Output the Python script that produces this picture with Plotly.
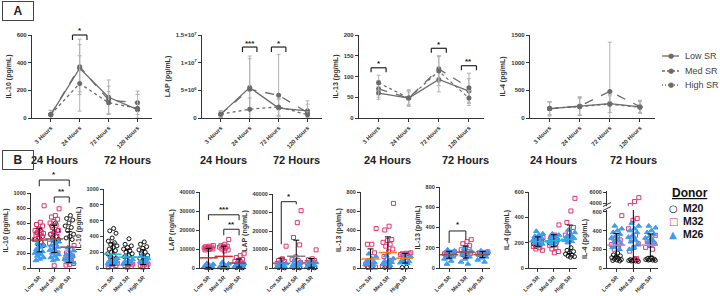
import numpy as np
import plotly.graph_objects as go

W, H = 720, 296
FONT = "Arial, Liberation Sans, sans-serif"

HOURS = ["3 Hours", "24 Hours", "72 Hours", "120 Hours"]
SR_GROUPS = ["Low SR", "Med SR", "High SR"]
DONORS = ["M20", "M32", "M26"]

# ---------------- Panel A: mean (SD) over time ----------------
IL10_LOW = [25, 360, 150, 60]
IL10_LOW_SD = [30, 170, 125, 60]
IL10_MED = [25, 370, 130, 110]
IL10_MED_SD = [30, 200, 100, 85]
IL10_HIGH = [25, 250, 110, 70]
IL10_HIGH_SD = [30, 200, 80, 100]

LAP_LOW = [7e5, 5.5e6, 1.8e6, 1.3e6]
LAP_LOW_SD = [6e5, 5.7e6, 1.5e6, 1.8e6]
LAP_MED = [7e5, 5.2e6, 4.1e6, 1.0e6]
LAP_MED_SD = [6e5, 5.5e6, 7.4e6, 1.5e6]
LAP_HIGH = [7e5, 1.6e6, 2.0e6, 0.6e6]
LAP_HIGH_SD = [5e5, 2.0e6, 1.5e6, 0.5e6]

IL13_LOW = [60, 48, 93, 65]
IL13_LOW_SD = [15, 15, 30, 30]
IL13_MED = [70, 48, 118, 73]
IL13_MED_SD = [20, 18, 32, 35]
IL13_HIGH = [85, 48, 113, 48]
IL13_HIGH_SD = [18, 20, 35, 18]

IL4_LOW = [170, 210, 260, 200]
IL4_LOW_SD = [120, 160, 160, 100]
IL4_MED = [165, 215, 480, 205]
IL4_MED_SD = [130, 170, 890, 115]
IL4_HIGH = [175, 205, 250, 195]
IL4_HIGH_SD = [110, 150, 150, 110]

# ---------------- Panel B: individual values [Low, Med, High] ----------------
IL10_24_M20 = [[500, 470, 420, 400, 380, 340, 320, 300],
               [600, 560, 500, 480, 450, 420, 400, 380, 350],
               [700, 660, 640, 600, 560, 540, 500, 450, 420, 400, 380]]
IL10_24_M32 = [[830, 610, 580, 560, 520, 500, 480, 470, 460, 450, 440, 420, 400, 380, 350],
               [790, 700, 680, 650, 620, 600, 570, 540, 500, 470, 450, 420, 380, 330, 300, 270, 200, 30],
               [300, 250, 200, 160, 140, 120, 100, 80, 60, 50, 40]]
IL10_24_M26 = [[330, 300, 280, 250, 220, 200, 200, 180, 160, 140, 120, 100],
               [380, 350, 320, 300, 280, 260, 240, 220, 200, 180, 160, 140, 120, 100],
               [270, 230, 200, 180, 160, 140, 120, 100, 80, 70]]

IL10_72_M20 = [[500, 470, 440, 380, 340, 320, 300, 280, 260, 240, 220, 200, 180, 160, 140, 120, 100],
               [370, 300, 280, 260, 240, 220, 200, 180, 160, 140, 120, 100],
               [330, 300, 270, 250, 230, 200, 180, 160, 140, 120, 100]]
IL10_72_M32 = [[60, 50, 40, 30, 20, 10],
               [50, 40, 30, 20, 10],
               [50, 40, 30, 20, 10]]
IL10_72_M26 = [[150, 120, 100, 90, 80, 70, 60, 50, 40],
               [140, 110, 90, 80, 70, 60, 50],
               [160, 120, 100, 80, 70, 60]]

LAP_24_M20 = [[500, 300, 200, 100],
              [500, 300, 100],
              [400, 200, 100]]
LAP_24_M32 = [[11800, 11500, 11200, 11000, 10800, 10600, 10400, 10200, 10000, 9800, 9500],
              [15000, 12500, 11800, 11500, 11200, 11000, 10500, 10000, 9500, 9000],
              [7500, 6500, 5500, 4500, 4000, 3500, 3000, 2500, 2000]]
LAP_24_M26 = [[2500, 2000, 1500, 1200, 1000, 800, 600, 400, 200],
              [3000, 2200, 1500, 1000, 800, 500, 300],
              [3000, 2500, 2000, 1500, 1200, 1000, 800, 500]]

LAP_72_M20 = [[300, 200, 100],
              [300, 200, 100],
              [300, 200, 100]]
LAP_72_M32 = [[11800, 5000, 4000, 3500, 3000, 2500, 2000],
              [31000, 24500, 16500, 12500, 6000, 4500, 4000, 3500, 3000],
              [9800, 5000, 4500, 4000, 3500, 3000, 2500]]
LAP_72_M26 = [[3000, 2500, 2000, 1500, 1000, 800, 500],
              [4000, 3000, 2500, 2000, 1500, 1000, 500],
              [3500, 3000, 2500, 2000, 1500, 1000, 500]]

IL13_24_M20 = [[10, 5], [10, 5], [10, 5]]
IL13_24_M32 = [[415, 250, 250, 160, 80, 40, 20, 10, 10, 10],
               [680, 440, 400, 300, 290, 270, 250, 230, 200, 170, 120, 80, 40, 20, 10],
               [160, 155, 150, 150, 145, 140, 135, 130]]
IL13_24_M26 = [[150, 120, 100, 80, 60, 50, 40, 30],
               [130, 100, 80, 70, 60, 50, 40, 30],
               [140, 120, 100, 80, 70, 60, 55, 50]]

IL13_72_M20 = [[140, 130], [140, 130], [140, 130]]
IL13_72_M32 = [[160, 155, 150, 150, 145, 140, 140, 135, 130],
               [280, 260, 240, 220, 200, 180, 160, 150, 145, 140, 140, 135],
               [160, 155, 150, 145, 140, 140, 135]]
IL13_72_M26 = [[180, 170, 150, 130, 110, 100, 90, 70, 40],
               [190, 170, 150, 130, 110, 90, 60, 40],
               [170, 160, 150, 130, 110, 100, 80, 60]]

IL4_24_M20 = [[230, 220, 210, 200, 190, 180, 170],
              [250, 240, 220, 210, 200, 190],
              [160, 140, 130, 120, 110, 100, 95, 90, 85]]
IL4_24_M32 = [[240, 230, 220, 200, 180, 170, 160, 150, 140],
              [340, 260, 240, 220, 200, 180, 160, 150, 130, 120],
              [550, 450, 360, 320, 280, 260, 240, 220]]
IL4_24_M26 = [[290, 270, 260, 250, 240, 230, 220, 210, 200, 190, 180],
              [270, 260, 250, 240, 230, 220, 210, 200, 190],
              [300, 280, 260, 250, 240, 230, 220, 210, 200]]

IL4_72_M20 = [[160, 140, 130, 120, 110, 100, 95, 90, 85, 80, 75],
              [100, 90, 85, 80, 80, 75, 75, 70],
              [110, 100, 95, 90, 90, 85, 85, 80]]
IL4_72_M32 = [[560, 340, 320, 300, 280, 250, 220, 200],
              [5000, 4300, 3600, 530, 510, 420, 350, 300, 260, 220, 180, 100],
              [350, 300, 280, 260, 240, 220, 200]]
IL4_72_M26 = [[450, 420, 400, 380, 360, 340, 320, 300, 280, 260, 240, 220, 200],
              [480, 450, 420, 400, 380, 350, 330, 300, 280, 250, 220, 200],
              [450, 430, 400, 380, 360, 340, 320, 300, 280, 260, 240]]

# ---------------- styling ----------------
LINE_GRAY = "#6b6b6b"
ERR_GRAY = "#b3b3b3"
AXC = "#333333"
DONOR_STYLE = {
    "M20": dict(symbol="circle-open", color="#111111", size=4, glyph="○"),
    "M32": dict(symbol="square-open", color="#e3336f", size=4, glyph="□"),
    "M26": dict(symbol="triangle-up", color="#3b9cf4", size=5, glyph="▲"),
}
DASHES = ["solid", "dash", "dot"]
LEGEND_DASHES = ["solid", "3px,2px", "1px,2px"]


def PX(x):
    return x / W


def PY(y):
    return 1 - y / H


def axis_base(size=6, **kw):
    d = dict(showline=True, linecolor=AXC, linewidth=1.2, ticks="outside", ticklen=3,
             tickwidth=1, tickcolor=AXC, showgrid=False, zeroline=False, automargin=False,
             fixedrange=True,
             tickfont=dict(family=FONT, size=size, color=AXC, weight="bold"))
    d.update(kw)
    return d


fig = go.Figure()
layout = dict(width=W, height=H, margin=dict(l=0, r=0, t=0, b=0), template="none",
              paper_bgcolor="white", plot_bgcolor="white", showlegend=False,
              font=dict(family=FONT, color=AXC))
shapes, annotations = [], []

# ---------------- Panel A ----------------
TOP = [
    ("IL-10 (pg/mL)", 32, 152, [0, 600], [0, 200, 400, 600], None,
     [(IL10_LOW, IL10_LOW_SD), (IL10_MED, IL10_MED_SD), (IL10_HIGH, IL10_HIGH_SD)]),
    ("LAP (pg/mL)", 202, 322, [0, 1.5e7], [0, 5e6, 1e7, 1.5e7],
     ["0", "5×10<sup>6</sup>", "1×10<sup>7</sup>", "1.5×10<sup>7</sup>"],
     [(LAP_LOW, LAP_LOW_SD), (LAP_MED, LAP_MED_SD), (LAP_HIGH, LAP_HIGH_SD)]),
    ("IL-13 (pg/mL)", 359, 484, [0, 200], [0, 50, 100, 150, 200], None,
     [(IL13_LOW, IL13_LOW_SD), (IL13_MED, IL13_MED_SD), (IL13_HIGH, IL13_HIGH_SD)]),
    ("IL-4 (pg/mL)", 530, 655, [0, 1500], [0, 500, 1000, 1500], None,
     [(IL4_LOW, IL4_LOW_SD), (IL4_MED, IL4_MED_SD), (IL4_HIGH, IL4_HIGH_SD)]),
]
TOP_Y = (35, 118)
xs_top = list(range(len(HOURS)))
for i, (ytitle, x0, x1, yr, tv, tt, series) in enumerate(TOP):
    n = i + 1
    sx = "" if n == 1 else str(n)
    layout["xaxis" + sx] = axis_base(domain=[PX(x0), PX(x1)], range=[-0.65, 3.5],
                                     anchor="y" + sx, tickvals=xs_top, ticktext=HOURS,
                                     tickangle=-45)
    ya = axis_base(domain=[PY(TOP_Y[1]), PY(TOP_Y[0])], range=yr, anchor="x" + sx,
                   tickvals=tv, tickformat="d",
                   title=dict(text=ytitle, font=dict(family=FONT, size=7, weight="bold"),
                              standoff=4))
    if tt:
        ya["ticktext"] = tt
    layout["yaxis" + sx] = ya
    for k, ((m, sd), name) in enumerate(zip(series, SR_GROUPS)):
        fig.add_trace(go.Scatter(
            x=xs_top, y=m, name=name, mode="lines+markers",
            error_y=dict(type="data", array=sd, color=ERR_GRAY, thickness=1, width=2),
            line=dict(color=LINE_GRAY, width=1.3, dash=DASHES[k]),
            marker=dict(size=5, color=LINE_GRAY),
            xaxis="x" + sx, yaxis="y" + sx))

# significance brackets for panel A: (axis no., x0, x1, label, top, leg, star)
TOP_SIG = [
    (1, 0.75, 1.25, "*", 1.0, 0.94, 1.05),
    (2, 0.75, 1.25, "***", 0.855, 0.795, 0.90),
    (2, 1.75, 2.25, "*", 0.855, 0.795, 0.90),
    (3, -0.25, 0.25, "*", 0.605, 0.55, 0.655),
    (3, 1.75, 2.25, "*", 0.84, 0.785, 0.89),
    (3, 2.75, 3.25, "**", 0.63, 0.575, 0.68),
]

# ---------------- Panel B ----------------
BOTTOM = [
    ("IL-10 (pg/mL)", 31, 76, 193, [0, 1000], [0, 200, 400, 600, 800, 1000],
     [IL10_24_M20, IL10_24_M32, IL10_24_M26], "24 Hours"),
    ("IL-10 (pg/mL)", 104, 150, 189, [0, 1000], [0, 200, 400, 600, 800, 1000],
     [IL10_72_M20, IL10_72_M32, IL10_72_M26], "72 Hours"),
    ("LAP (ng/mL)", 200, 246, 192, [0, 40000], [0, 10000, 20000, 30000, 40000],
     [LAP_24_M20, LAP_24_M32, LAP_24_M26], "24 Hours"),
    ("LAP (ng/mL)", 273, 318, 194, [0, 40000], [0, 10000, 20000, 30000, 40000],
     [LAP_72_M20, LAP_72_M32, LAP_72_M26], "72 Hours"),
    ("IL-13 (pg/mL)", 361, 413, 192, [0, 800], [0, 200, 400, 600, 800],
     [IL13_24_M20, IL13_24_M32, IL13_24_M26], "24 Hours"),
    ("IL-13 (pg/mL)", 440, 490, 187, [0, 800], [0, 200, 400, 600, 800],
     [IL13_72_M20, IL13_72_M32, IL13_72_M26], "72 Hours"),
    ("IL-4 (pg/mL)", 529, 577, 192, [0, 600], [0, 200, 400, 600],
     [IL4_24_M20, IL4_24_M32, IL4_24_M26], "24 Hours"),
    ("IL-4 (pg/mL)", 607, 658, 210, [0, 620], [0, 200, 400, 600],
     [IL4_72_M20, IL4_72_M32, IL4_72_M26], "72 Hours"),
]
BOT_Y1 = 268
GOLD = 0.6180339887
xs_bot = list(range(len(SR_GROUPS)))

for j, (ytitle, x0, x1, ytop, yr, tv, donors, ttl) in enumerate(BOTTOM):
    n = 5 + j
    sx = str(n)
    layout["xaxis" + sx] = axis_base(size=5.5, domain=[PX(x0), PX(x1)], range=[-0.55, 2.45],
                                     anchor="y" + sx, tickvals=xs_bot, ticktext=SR_GROUPS,
                                     tickangle=-45)
    layout["yaxis" + sx] = axis_base(size=5.5, domain=[PY(BOT_Y1), PY(ytop)], range=yr,
                                     anchor="x" + sx, tickvals=tv, tickformat="d",
                                     title=dict(text=ytitle,
                                                font=dict(family=FONT, size=7, weight="bold"),
                                                standoff=4))
    broken = (j == len(BOTTOM) - 1)
    if broken:
        layout["yaxis13"] = axis_base(size=5.5, domain=[PY(206), PY(191)], range=[3500, 6200],
                                      anchor="x" + sx, tickvals=[4000, 6000], tickformat="d")
    allvals = [[] for _ in SR_GROUPS]
    for d, (dname, groups) in enumerate(zip(DONORS, donors)):
        xs, ys = [], []
        for g, vals in enumerate(groups):
            for k, v in enumerate(vals):
                off = (((k + 1) * GOLD + d * 0.37) % 1.0 - 0.5) * 0.66
                xs.append(g + off)
                ys.append(v)
                allvals[g].append(v)
        st = DONOR_STYLE[dname]
        mk = dict(symbol=st["symbol"], size=st["size"], color=st["color"],
                  line=dict(width=1, color=st["color"]))
        fig.add_trace(go.Scatter(x=xs, y=ys, mode="markers", marker=mk, name=dname,
                                 xaxis="x" + sx, yaxis="y" + sx, cliponaxis=broken))
        if broken:
            fig.add_trace(go.Scatter(x=xs, y=ys, mode="markers", marker=mk, name=dname,
                                     xaxis="x" + sx, yaxis="y13"))
    means = [float(np.mean(a)) for a in allvals]
    sds = [float(np.std(a, ddof=1)) for a in allvals]
    fig.add_trace(go.Scatter(
        x=xs_bot, y=means, mode="markers", name="Mean ± SD",
        marker=dict(symbol="line-ew-open", size=13, line=dict(width=1.5, color="black")),
        error_y=dict(type="data", array=sds, color="black", thickness=1, width=3),
        xaxis="x" + sx, yaxis="y" + sx))
    annotations.append(dict(text="<b>" + ttl + "</b>", xref="x" + sx, x=1, yref="paper",
                            y=PY(160), xanchor="center", yanchor="middle", showarrow=False,
                            font=dict(family=FONT, size=11, color="#222")))

# axis break marks on the last panel
for yb in (204.5, 208.5):
    shapes.append(dict(type="line", xref="paper", yref="paper", x0=PX(603), x1=PX(611),
                       y0=PY(yb + 2), y1=PY(yb - 2), line=dict(color=AXC, width=1)))

BOT_SIG = [
    (5, 0, 2, "*", 1.173, 1.09, 1.09, 1.24),
    (5, 1, 2, "**", 0.947, 0.87, 0.87, 1.02),
    (7, 0, 2, "***", 0.70, 0.63, 0.63, 0.77),
    (7, 1, 2, "**", 0.51, 0.43, 0.43, 0.575),
    (8, 0, 1, "*", 0.896, 0.32, 0.86, 0.96),
    (10, 0, 1, "*", 0.457, 0.31, 0.35, 0.54),
]

for (n, a, b, lab, top, leg, star) in TOP_SIG:
    sx = "" if n == 1 else str(n)
    xr, yr_ = "x" + sx, "y" + sx + " domain"
    for (xa, ya, xb, yb) in [(a, top, b, top), (a, top, a, leg), (b, top, b, leg)]:
        shapes.append(dict(type="line", xref=xr, yref=yr_, x0=xa, y0=ya, x1=xb, y1=yb,
                           line=dict(color="#222", width=1.2)))
    annotations.append(dict(text="<b>" + lab + "</b>", xref=xr, x=(a + b) / 2, yref=yr_,
                            y=star, xanchor="center", yanchor="middle", showarrow=False,
                            font=dict(size=8, color="#222")))

for (n, a, b, lab, top, legl, legr, star) in BOT_SIG:
    sx = str(n)
    xr, yr_ = "x" + sx, "y" + sx + " domain"
    for (xa, ya, xb, yb) in [(a, top, b, top), (a, top, a, legl), (b, top, b, legr)]:
        shapes.append(dict(type="line", xref=xr, yref=yr_, x0=xa, y0=ya, x1=xb, y1=yb,
                           line=dict(color="#222", width=1)))
    annotations.append(dict(text="<b>" + lab + "</b>", xref=xr, x=(a + b) / 2, yref=yr_,
                            y=star, xanchor="center", yanchor="middle", showarrow=False,
                            font=dict(size=8, color="#222")))

# panel letters
for lab, cy in (("A", 11), ("B", 160)):
    annotations.append(dict(text="<b>" + lab + "</b>", xref="paper", yref="paper",
                            x=PX(18), y=PY(cy), xanchor="center", yanchor="middle",
                            showarrow=False, width=26, height=14,
                            bordercolor="#444", borderwidth=1, borderpad=2,
                            font=dict(family=FONT, size=12, color="#222")))

# ---------------- legends (drawn as keys) ----------------
SR_KEY_Y = [56, 71, 85]
for k, (name, ky) in enumerate(zip(SR_GROUPS, SR_KEY_Y)):
    shapes.append(dict(type="line", xref="paper", yref="paper", x0=PX(662), x1=PX(679),
                       y0=PY(ky), y1=PY(ky),
                       line=dict(color=LINE_GRAY, width=1.3, dash=LEGEND_DASHES[k])))
    annotations.append(dict(text="●", xref="paper", yref="paper", x=PX(670.5), y=PY(ky),
                            xanchor="center", yanchor="middle", showarrow=False,
                            font=dict(family="DejaVu Sans", size=7, color=LINE_GRAY)))
    annotations.append(dict(text=name, xref="paper", yref="paper", x=PX(683), y=PY(ky),
                            xanchor="left", yanchor="middle", showarrow=False,
                            font=dict(family=FONT, size=9, color="#444")))

annotations.append(dict(text="<span style='text-decoration:underline'><b>Donor</b></span>",
                        xref="paper", yref="paper", x=PX(670), y=PY(193),
                        xanchor="left", yanchor="middle", showarrow=False,
                        font=dict(family=FONT, size=12, color="#111")))
DONOR_KEY_Y = [208, 221, 234]
for dname, ky in zip(DONORS, DONOR_KEY_Y):
    st = DONOR_STYLE[dname]
    annotations.append(dict(text="<b>" + st["glyph"] + "</b>", xref="paper", yref="paper",
                            x=PX(673), y=PY(ky), xanchor="center", yanchor="middle",
                            showarrow=False,
                            font=dict(family="DejaVu Sans", size=10, color=st["color"])))
    annotations.append(dict(text="<b>" + dname + "</b>", xref="paper", yref="paper",
                            x=PX(681), y=PY(ky), xanchor="left", yanchor="middle",
                            showarrow=False, font=dict(family=FONT, size=10.5, color="#111")))

layout["shapes"] = shapes
layout["annotations"] = annotations
fig.update_layout(**layout)
fig.write_html("out.html", config={"displayModeBar": False},
               post_script="document.body.style.margin='0';document.body.style.overflow='hidden';")
